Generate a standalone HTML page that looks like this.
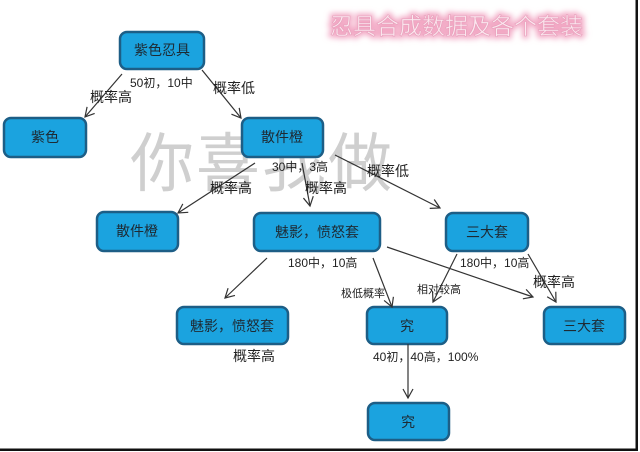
<!DOCTYPE html>
<html><head><meta charset="utf-8"><style>
html,body{margin:0;padding:0;background:#fff;}
svg{display:block;}
text{font-family:"Liberation Sans","Noto Sans CJK SC",sans-serif;}
</style></head><body>
<svg width="640" height="452" viewBox="0 0 640 452" xmlns="http://www.w3.org/2000/svg">
<defs>
<marker id="a" markerWidth="12" markerHeight="12" refX="10" refY="6" orient="auto" markerUnits="userSpaceOnUse">
<path d="M1,1 L10,6 L1,11" fill="none" stroke="#333" stroke-width="1.2"/>
</marker>
<filter id="g" x="-10%" y="-40%" width="120%" height="180%"><feGaussianBlur stdDeviation="3"/></filter>
</defs>
<rect width="640" height="452" fill="#fff"/>
<!-- watermark -->
<text x="130" y="186" font-size="64" fill="#cfcfcf" letter-spacing="2">你喜我做</text>
<!-- title -->
<text x="330" y="34" font-size="23" fill="#f2a8c4" stroke="#f2a8c4" stroke-width="5" filter="url(#g)">忍具合成数据及各个套装</text>
<text x="330" y="34" font-size="23" fill="#fbe8ef" stroke="#e8a0bc" stroke-width="0.6">忍具合成数据及各个套装</text>
<!-- frame -->
<rect x="635.5" y="0" width="2.5" height="451" fill="#111"/>
<rect x="0" y="448.5" width="638" height="2.5" fill="#111"/>
<!-- boxes -->
<g fill="#1ba3df" stroke="#1d5e86" stroke-width="2.5">
<rect x="120" y="32" width="84" height="37" rx="7"/>
<rect x="4" y="118" width="82" height="39" rx="7"/>
<rect x="242" y="118" width="81" height="39" rx="7"/>
<rect x="97" y="212" width="81" height="39" rx="7"/>
<rect x="254" y="213" width="126" height="38" rx="7"/>
<rect x="446" y="213" width="82" height="38" rx="7"/>
<rect x="177" y="307" width="111" height="37" rx="7"/>
<rect x="367" y="307" width="80" height="37" rx="7"/>
<rect x="544" y="307" width="81" height="37" rx="7"/>
<rect x="368" y="403" width="81" height="37" rx="7"/>
</g>
<g font-size="14" fill="#1e2a33" text-anchor="middle">
<text x="162" y="55">紫色忍具</text>
<text x="45" y="142">紫色</text>
<text x="282" y="142">散件橙</text>
<text x="137" y="236">散件橙</text>
<text x="317" y="237">魅影，愤怒套</text>
<text x="487" y="237">三大套</text>
<text x="232" y="331">魅影，愤怒套</text>
<text x="407" y="331">究</text>
<text x="584" y="331">三大套</text>
<text x="408" y="427">究</text>
</g>
<!-- arrows -->
<g stroke="#333" stroke-width="1.2" fill="none" marker-end="url(#a)">
<line x1="122" y1="74" x2="85" y2="117"/>
<line x1="202" y1="70" x2="241" y2="118"/>
<line x1="255" y1="163" x2="178" y2="213"/>
<line x1="302" y1="163" x2="310" y2="206"/>
<line x1="335" y1="155" x2="440" y2="208"/>
<line x1="267" y1="258" x2="225" y2="298"/>
<line x1="373" y1="258" x2="392" y2="307"/>
<line x1="387" y1="247" x2="533" y2="297"/>
<line x1="457" y1="254" x2="433" y2="302"/>
<line x1="528" y1="254" x2="556" y2="302"/>
<line x1="408" y1="344" x2="408" y2="398"/>
</g>
<!-- labels -->
<g fill="#222">
<text x="130" y="87" font-size="12">50初，10中</text>
<text x="90" y="102" font-size="14">概率高</text>
<text x="213" y="93" font-size="14">概率低</text>
<text x="272" y="171" font-size="12">30中，3高</text>
<text x="210" y="193" font-size="14">概率高</text>
<text x="305" y="193" font-size="14">概率高</text>
<text x="367" y="176" font-size="14">概率低</text>
<text x="288" y="267" font-size="12">180中，10高</text>
<text x="460" y="267" font-size="12">180中，10高</text>
<text x="533" y="287" font-size="14">概率高</text>
<text x="341" y="297" font-size="11">极低概率</text>
<text x="417" y="293" font-size="11">相对较高</text>
<text x="233" y="361" font-size="14">概率高</text>
<text x="373" y="361" font-size="12">40初，40高，100%</text>
</g>
</svg>
</body></html>
